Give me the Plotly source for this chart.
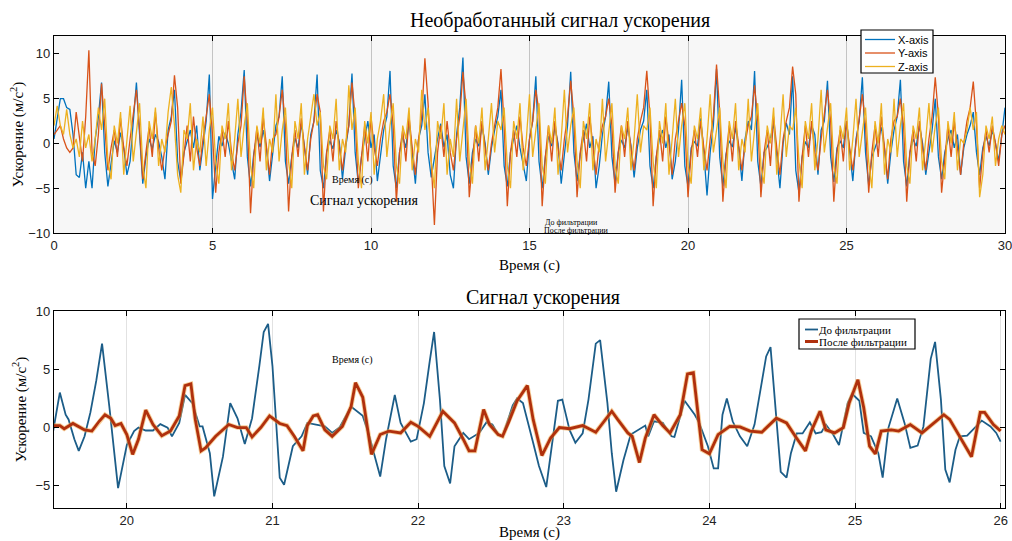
import numpy as np
import plotly.graph_objects as go

# ---------------- top panel: raw acceleration, sampled every 0.1 s (0..30 s) ----------------
sample_step = 0.1
x_axis_acc = [
    0.5, 3.0, 5.0, 5.0, 4.0, 3.8, 1.0, -3.5, -3.8, -1.0,
    -5.0, -2.0, -5.0, 0.5, 3.0, 6.8, -1.0, -4.8, -2.0, 0.3,
    -1.0, 1.2, -0.5, -3.5, -2.0, 2.0, 6.8, 1.0, -4.5, -1.5,
    0.5, -0.6, 1.0, 0.2, -1.5, -4.0, 1.5, 3.0, 6.0, -2.0,
    -4.2, -1.0, 0.4, 1.5, -0.5, 2.0, -3.0, -0.5, 2.5, 7.7,
    -6.2, -2.5, 0.8, -0.3, 1.2, 0.0, -2.0, -4.0, 1.0, 3.5,
    8.2, -1.5, -4.8, -1.2, 1.0, -0.4, 1.5, -0.5, -4.2, -1.0,
    2.0, 3.0, 7.5, -2.0, -4.5, -1.5, 0.6, -0.5, 2.2, -0.3,
    -3.5, 1.0, 2.5, 7.7, -3.0, -5.0, -1.0, 0.3, -0.6, 1.5,
    0.2, -4.0, -0.5, 2.0, 7.8, -1.0, -4.5, -1.5, 0.5, 2.5,
    -0.5, 1.0, -4.2, -1.0, 1.5, 3.0, 8.1, -2.5, -5.0, -1.0,
    0.8, -0.5, 2.5, -1.0, -4.5, 0.5, 2.0, 5.5, -1.0, -3.8,
    -1.5, 0.5, 2.2, -0.4, 1.0, -3.5, -5.0, 1.0, 4.0, 9.6,
    -1.5, -4.5, -1.0, 0.5, -0.3, 2.0, 0.0, -3.5, -0.5, 1.5,
    3.0, 6.0, -2.5, -4.8, -1.0, 0.6, 2.0, -0.5, -2.5, -4.2,
    0.5, 2.5, 7.5, -2.0, -5.0, -1.5, 0.8, -0.3, 1.8, 0.0,
    -4.5, -1.0, 2.0, 8.0, -1.0, -4.2, -1.2, 0.5, 2.2, -0.5,
    0.8, -5.0, -2.5, 1.0, 3.0, 6.9, -1.5, -4.5, -1.0, 0.4,
    -0.5, 1.8, -0.2, -3.8, -0.5, 1.5, 2.5, 6.0, -2.5, -5.0,
    -1.5, 0.5, 1.5, -0.5, 1.0, -4.0, -2.0, 1.5, 7.1, -2.5,
    -4.8, -0.5, 0.2, -0.3, 2.8, -1.0, -5.8, -1.0, 2.0, 8.3,
    -1.5, -4.8, -1.2, 0.3, -0.4, 1.8, -0.5, -4.2, 0.5, 2.5,
    1.5, 8.1, -2.0, -4.8, -1.0, -0.4, 0.5, 2.3, -1.0, -5.0,
    0.0, 2.3, 1.0, 7.5, -3.0, -5.5, -1.5, 0.2, -0.5, 2.0,
    1.0, -3.5, 1.5, 2.5, 7.0, -1.5, -4.3, -0.5, 0.3, -0.5,
    2.5, -1.2, -4.2, 0.5, 2.5, 7.4, -1.0, -4.7, -1.5, -0.5,
    0.5, 1.8, -0.6, -4.5, -1.0, 1.5, 3.0, 7.1, -2.0, -4.8,
    -1.0, 0.5, -0.3, 2.0, 0.0, -3.5, -1.0, 1.5, 5.0, -1.5,
    -4.0, -1.0, 0.5, 1.5, -0.5, 1.0, -3.5, -0.5, 1.0, 2.0,
    3.5, -1.0, -3.5, -0.5, 0.8, -0.3, 1.5, 0.0, -2.0, 1.0,
    4.0,
]
y_axis_acc = [
    1.0, 1.5, 2.0, 0.5, -0.5, -1.0, -0.5, 3.5, 1.0, -2.0,
    3.0, 10.4, -1.0, -2.5, 1.0, 6.7, 2.0, -3.0, -0.5, 1.5,
    -1.5, 2.8, -0.5, -2.5, 0.5, 3.0, 6.0, 1.5, -4.0, -1.0,
    1.8, -1.5, 3.5, -0.5, -3.0, -0.5, 1.0, 2.5, 7.6, 4.0,
    -4.5, -1.5, 2.0, -2.0, 3.0, -0.5, -2.5, 0.5, 3.0, 5.5,
    1.0, -5.5, -1.0, 1.5, -1.5, 2.5, -1.0, -3.0, 0.0, 2.0,
    7.5, 2.5, -7.8, -1.5, 1.8, -2.0, 3.0, 0.0, -3.5, 0.5,
    1.0, 3.0, 6.0, 2.0, -7.6, -1.5, 1.5, -1.5, 2.8, -0.5,
    -3.0, 0.5, 2.5, 5.5, 3.5, -7.6, -1.0, 1.5, -2.0, 2.5,
    -0.5, -3.0, 0.0, 2.0, 6.8, 3.0, -5.0, -1.5, 2.0, -2.0,
    3.0, -0.5, -2.5, 0.5, 2.5, 3.5, 5.5, 2.0, -6.5, -1.0,
    1.5, -2.0, 3.0, -0.5, -3.5, 0.5, 3.0, 9.5, 4.5, -2.0,
    -9.1, -1.0, 2.0, -1.5, 2.5, -1.0, -3.0, 0.5, 3.0, 8.0,
    4.0, -6.0, -1.5, 2.0, -2.0, 2.5, -0.5, -3.0, 0.0, 2.0,
    4.0, 8.3, 2.0, -7.0, -1.0, 1.5, -1.5, 3.0, -0.5, -2.5,
    0.5, 2.5, 6.0, 3.5, -7.0, -1.5, 2.0, -2.0, 2.5, -0.5,
    -3.0, 0.5, 3.0, 7.0, 3.0, -6.0, -1.0, 1.5, -2.0, 3.0,
    -0.5, -3.5, 0.0, 2.0, 3.0, 5.0, 2.0, -5.5, -1.0, 2.0,
    -1.5, 2.5, -0.5, -3.0, 0.5, 2.5, 4.0, 8.1, 3.0, -7.0,
    -1.5, 1.5, -2.0, 3.0, 0.0, -3.5, 0.5, 2.5, 4.5, 2.0,
    -6.0, -1.0, 1.5, -1.5, 2.5, -0.5, -3.0, 0.5, 3.0, 8.8,
    3.5, -6.5, -1.5, 2.0, -2.0, 2.5, -0.5, -3.0, 0.0, 2.0,
    3.0, 6.5, 2.5, -6.0, -1.0, 1.5, -2.5, 3.0, -0.5, -3.5,
    0.5, 2.5, 4.0, 8.6, 5.5, -6.5, -1.5, 2.0, -1.5, 2.5,
    -1.0, -3.0, 0.5, 3.0, 6.0, 2.5, -6.5, -1.0, 1.5, -2.0,
    2.5, -0.5, -3.0, 0.0, 2.5, 5.5, 2.0, -5.5, -1.0, 2.0,
    -1.5, 3.0, -0.5, -4.0, 0.5, 2.5, 3.0, 5.0, 2.0, -6.5,
    -1.0, 1.5, -2.0, 2.5, -0.5, -3.0, 0.5, 3.0, 7.4, 3.0,
    -5.5, -1.5, 2.0, -1.5, 2.5, -0.5, -3.5, 0.0, 2.5, 4.0,
    6.9, 2.0, -5.0, -1.0, 1.5, -1.0, 2.0, 0.0, -2.5, 1.0,
    2.0,
]
z_axis_acc = [
    2.0, 4.2, 2.0, 1.0, 3.8, 1.0, -0.5, 0.5, -1.5, 2.5,
    -0.5, 1.0, -2.0, 0.5, 4.0, 1.5, 5.0, -2.0, -4.0, 2.0,
    0.0, 3.5, -3.5, 0.5, 4.2, -2.0, 1.5, 4.5, -2.5, -5.0,
    2.5, 0.5, 4.0, -2.5, 0.5, -1.0, 3.5, 6.3, 2.0, -3.5,
    -5.5, 1.5, 0.5, 4.5, -3.0, 0.5, -1.0, 3.0, -2.5, 1.5,
    4.0, -2.0, -4.5, 2.0, 0.5, 4.5, -3.0, 0.5, 5.0, -1.5,
    2.0, 4.5, -2.5, -5.0, 2.0, 0.0, 4.0, -3.0, 0.5, -1.0,
    5.5, -2.0, 1.5, 4.0, -2.0, -5.0, 2.5, 0.5, 4.5, -3.5,
    0.5, 3.0, 5.5, 2.0, 3.5, -2.5, -4.0, 2.0, 0.5, 5.0,
    -3.0, 0.5, -1.0, 6.5, 1.5, 4.0, -2.0, -5.0, 2.5, 0.0,
    3.5, -3.5, 0.5, 2.5, 5.5, -1.5, 2.0, 4.5, -2.5, -4.5,
    2.0, 0.5, 4.0, -3.0, 0.5, -1.0, 6.0, 1.5, 4.0, -2.0,
    -5.0, 2.5, 0.5, 4.5, -3.5, 0.5, -1.5, 5.0, -2.0, 1.5,
    5.0, -2.0, -4.5, 2.0, 0.0, 4.0, -3.0, 0.5, 4.5, -1.0,
    2.5, 1.5, 4.0, -2.5, -5.0, 2.5, 0.5, 4.5, -3.0, 0.5,
    5.5, -1.5, 1.5, 4.5, -2.5, -4.5, 2.0, 0.0, 4.0, -3.5,
    0.5, 6.0, -1.0, 2.0, 4.0, -2.0, -5.0, 2.5, 0.5, 4.5,
    -3.0, 0.5, -1.0, 5.0, -2.0, 1.5, 4.5, -2.5, -4.5, 2.0,
    0.5, 4.0, -3.0, 0.5, 5.5, -1.0, 2.0, 1.5, 4.0, -2.0,
    -5.0, 2.5, 0.0, 4.5, -3.5, 0.5, 5.0, -1.5, 2.0, 4.5,
    -2.5, -4.5, 2.0, 0.5, 4.0, -3.0, 0.5, 5.5, -1.0, 1.5,
    4.0, -2.0, -5.0, 2.5, 0.5, 4.5, -3.0, 0.5, -1.0, 5.0,
    -2.0, 1.5, 4.5, -2.5, -4.5, 2.0, 0.0, 4.0, -3.5, 0.5,
    5.5, -1.5, 2.0, 1.5, 4.0, -2.0, -5.0, 2.5, 0.5, 4.5,
    -3.0, 0.5, 6.0, -1.0, 2.0, 4.5, -2.5, -4.5, 2.0, 0.5,
    4.0, -3.0, 0.5, 5.0, -1.5, 1.5, 4.0, -2.0, -5.0, 2.5,
    0.0, 4.5, -3.5, 0.5, -1.0, 5.0, -1.5, 2.0, 4.5, -2.5,
    -4.5, 2.0, 0.5, 4.0, -3.0, 0.5, 4.5, -1.0, 2.0, 4.0,
    -2.0, -4.0, 2.5, 0.0, 3.5, -3.0, 0.5, 0.0, 1.5, 4.0,
    1.5, 3.5, -6.0, -3.5, 2.0, 0.5, 3.0, -2.5, 0.5, 2.0,
    1.0,
]
time_top = np.round(np.arange(len(x_axis_acc)) * sample_step, 2)

# ---------------- bottom panel: before / after filtering (19.5..26 s) ----------------
t_before = [
    19.49, 19.54, 19.58, 19.60, 19.64, 19.67, 19.71, 19.75, 19.79, 19.83,
    19.88, 19.94, 20.00, 20.05, 20.08, 20.13, 20.18, 20.23, 20.28, 20.31,
    20.36, 20.40, 20.45, 20.50, 20.52, 20.57, 20.60, 20.66, 20.71, 20.76,
    20.81, 20.86, 20.91, 20.94, 20.97, 21.00, 21.05, 21.08, 21.14, 21.20,
    21.24, 21.30, 21.36, 21.41, 21.46, 21.54, 21.62, 21.66, 21.74, 21.78,
    21.84, 21.88, 21.95, 21.99, 22.04, 22.08, 22.11, 22.15, 22.18, 22.22,
    22.25, 22.31, 22.35, 22.42, 22.47, 22.51, 22.55, 22.58, 22.65, 22.68,
    22.72, 22.79, 22.83, 22.88, 22.93, 22.96, 22.99, 23.04, 23.08, 23.13,
    23.17, 23.22, 23.25, 23.30, 23.33, 23.36, 23.41, 23.46, 23.56, 23.58,
    23.62, 23.68, 23.74, 23.76, 23.83, 23.86, 23.90, 23.93, 23.99, 24.03,
    24.06, 24.09, 24.12, 24.16, 24.21, 24.26, 24.31, 24.36, 24.39, 24.42,
    24.46, 24.49, 24.53, 24.56, 24.60, 24.64, 24.69, 24.73, 24.77, 24.80,
    24.85, 24.89, 24.95, 24.98, 25.03, 25.06, 25.11, 25.16, 25.19, 25.23,
    25.29, 25.34, 25.38, 25.43, 25.47, 25.52, 25.55, 25.59, 25.62, 25.65,
    25.69, 25.72, 25.77, 25.83, 25.87, 25.93, 25.97, 26.00,
]
v_before = [
    -0.6, 3.0, 1.1, 0.7, -1.0, -2.0, -0.75, 1.3, 4.0, 7.2,
    1.8, -5.2, -1.5, -0.3, 0.0, -0.25, -0.25, 0.3, 0.0, -0.75,
    0.4, 2.8, 2.1, 0.1, 0.1, -2.2, -5.9, -2.5, 2.1, 0.8,
    -1.4, 0.8, 5.3, 8.2, 8.9, 5.3, -4.3, -4.9, -1.6, -0.75,
    0.4, 0.26, 0.1, -0.46, 0.0, 1.8, 1.0, -0.5, -4.2, -1.0,
    2.8, 0.4, -1.2, -1.0, 2.1, 5.7, 8.2, 2.4, -3.3, -4.8,
    -1.6, -0.46, -1.0, -0.46, 0.46, 0.26, -0.6, -0.75, 1.9, 2.5,
    2.1, -1.3, -3.3, -5.1, -0.2, 2.3, 2.4, -0.2, -1.3, -0.5,
    2.4, 7.2, 7.5, 2.1, -2.2, -5.5, -2.8, -0.6, 0.17, -0.75,
    0.54, 0.4, -0.75, -0.8, 2.3, 1.8, 1.1, 0.4, -1.6, -3.5,
    -3.5, 1.1, 2.5, 0.54, -0.75, -1.6, 0.26, 3.9, 6.1, 6.9,
    1.0, -3.8, -4.3, -2.2, -0.5, -0.5, 0.46, -0.5, -0.4, 0.26,
    -0.6, -1.5, 2.1, 2.9, 2.3, -0.46, -0.75, -2.2, -4.3, 0.0,
    2.5, 0.4, -1.75, -1.55, 0.1, 5.9, 7.35, 2.4, -3.6, -4.7,
    -1.9, -0.75, -0.7, 0.1, 0.6, 0.1, -0.46, -1.2,
]
t_after = [
    19.49, 19.54, 19.57, 19.63, 19.68, 19.71, 19.76, 19.81, 19.85, 19.89,
    19.92, 19.96, 20.00, 20.04, 20.08, 20.13, 20.18, 20.24, 20.30, 20.36,
    20.40, 20.44, 20.47, 20.51, 20.54, 20.61, 20.70, 20.76, 20.82, 20.86,
    20.92, 20.98, 21.05, 21.10, 21.15, 21.21, 21.24, 21.28, 21.31, 21.36,
    21.41, 21.48, 21.54, 21.57, 21.62, 21.68, 21.74, 21.80, 21.88, 21.95,
    22.00, 22.08, 22.17, 22.25, 22.31, 22.35, 22.39, 22.45, 22.49, 22.55,
    22.58, 22.62, 22.68, 22.75, 22.79, 22.85, 22.91, 22.97, 23.04, 23.13,
    23.22, 23.33, 23.37, 23.44, 23.47, 23.52, 23.56, 23.62, 23.68, 23.73,
    23.80, 23.85, 23.89, 23.92, 23.95, 24.00, 24.06, 24.14, 24.21, 24.28,
    24.36, 24.46, 24.53, 24.59, 24.66, 24.70, 24.76, 24.80, 24.86, 24.92,
    24.96, 25.02, 25.06, 25.10, 25.14, 25.18, 25.25, 25.30, 25.38, 25.46,
    25.54, 25.61, 25.65, 25.72, 25.80, 25.86, 25.89, 25.95, 26.00,
]
v_after = [
    0.17, 0.17, -0.1, 0.35, 0.0, -0.2, -0.3, 0.54, 1.1, 0.8,
    0.17, 0.35, -0.6, -2.3, -1.0, 1.5, 0.26, -0.7, -0.3, 1.0,
    3.6, 3.75, 0.7, -2.0, -1.75, -0.75, 0.26, 0.0, 0.0, -0.8,
    0.0, 1.0, 0.35, 0.17, -0.75, -2.0, 0.17, 1.0, 1.1, -0.2,
    -0.75, 0.1, 1.8, 3.85, 2.6, -2.3, -0.6, -0.3, -0.46, 0.46,
    0.1, -0.75, 1.4, 0.4, -1.0, -2.0, -2.0, 1.55, 0.26, -0.6,
    -0.75, 0.4, 2.3, 3.6, 0.7, -2.4, -0.9, 0.0, -0.1, 0.17,
    -0.4, 1.4, 0.7, -0.46, -0.75, -3.0, -0.9, 1.1, 0.17, -0.46,
    1.1, 4.6, 4.7, 1.55, -1.9, -2.25, -0.6, 0.1, 0.06, -0.3,
    -0.4, 0.8, 0.4, -0.75, -2.0, -0.3, 1.4, -0.2, -0.46, 0.0,
    2.1, 4.1, 1.7, -1.6, -2.25, -0.3, -0.2, -0.3, 0.26, -0.46,
    0.4, 1.1, 0.7, -0.75, -2.5, 1.3, 1.3, 0.26, -0.3,
]

top_xticks = [0, 5, 10, 15, 20, 25, 30]
top_yticks = [-10, -5, 0, 5, 10]
bot_xticks = [20, 21, 22, 23, 24, 25, 26]
bot_yticks = [-5, 0, 5, 10]

top_names = ["X-axis", "Y-axis", "Z-axis"]
top_colors = ["#0072BD", "#D95319", "#EDB120"]
bot_names = ["До фильтрации", "После фильтрации"]
bot_colors = ["#1c5d88", "#b0300d"]

SERIF = "Liberation Serif, Times New Roman, serif"
SANS = "Liberation Sans, Arial, sans-serif"
W, H = 1012, 541
X_TITLE = "Время (с)"
Y_TITLE = "Ускорение (м/с<sup>2</sup>)"

fig = go.Figure()

# top traces
for name, vals, col in zip(top_names, [x_axis_acc, y_axis_acc, z_axis_acc], top_colors):
    fig.add_trace(go.Scatter(x=time_top, y=vals, mode="lines", name=name,
                             line=dict(color=col, width=1.3),
                             xaxis="x", yaxis="y", showlegend=False))

# bottom traces
fig.add_trace(go.Scatter(x=t_before, y=v_before, mode="lines", name=bot_names[0],
                         line=dict(color=bot_colors[0], width=1.8),
                         xaxis="x2", yaxis="y2", showlegend=False))
fig.add_trace(go.Scatter(x=t_after, y=v_after, mode="lines", showlegend=False,
                         line=dict(color="rgba(240,165,70,0.55)", width=4.6),
                         xaxis="x2", yaxis="y2", hoverinfo="skip"))
fig.add_trace(go.Scatter(x=t_after, y=v_after, mode="lines", name=bot_names[1],
                         line=dict(color=bot_colors[1], width=2.8),
                         xaxis="x2", yaxis="y2", showlegend=False))

XDOM = [54 / W, 1005 / W]
TOPDOM = [1 - 233 / H, 1 - 36 / H]
BOTDOM = [1 - 508 / H, 1 - 311 / H]

axis_common = dict(showline=True, linecolor="black", linewidth=1.2, mirror="ticks",
                   ticks="inside", ticklen=5, tickcolor="black", zeroline=False,
                   automargin=False, ticklabeloverflow="allow",
                   tickfont=dict(family=SANS, size=13, color="#222"))
title_font = dict(family=SERIF, size=15, color="black")

fig.update_layout(
    width=W, height=H,
    margin=dict(l=0, r=0, t=0, b=0, autoexpand=False),
    paper_bgcolor="white", plot_bgcolor="white",
    xaxis=dict(domain=XDOM, anchor="y", range=[0, 30], tickvals=top_xticks,
               title=dict(text=X_TITLE, font=title_font, standoff=7),
               showgrid=True, gridcolor="#c4c4c4", gridwidth=1, **axis_common),
    yaxis=dict(domain=TOPDOM, anchor="x", range=[-10, 12], tickvals=top_yticks,
               title=dict(text=Y_TITLE, font=title_font, standoff=0),
               showgrid=False, **axis_common),
    xaxis2=dict(domain=XDOM, anchor="y2", range=[19.5, 26.03], tickvals=bot_xticks,
                title=dict(text=X_TITLE, font=title_font, standoff=4),
                showgrid=True, gridcolor="#e2e2e2", gridwidth=1, **axis_common),
    yaxis2=dict(domain=BOTDOM, anchor="x2", range=[-6.9, 10], tickvals=bot_yticks,
                title=dict(text=Y_TITLE, font=title_font, standoff=5),
                showgrid=False, **axis_common),
    showlegend=False,
)

# light grey background for the top panel
fig.add_shape(type="rect", xref="x domain", yref="y domain", x0=0, x1=1, y0=0, y1=1,
              fillcolor="#f7f7f7", line=dict(width=0), layer="below")


def px(x):
    return x / W


def py(y):
    return 1 - y / H


def ann(text, x, y, size, angle=0, family=SERIF, xanchor="center"):
    fig.add_annotation(text=text, x=px(x), y=py(y), xref="paper", yref="paper",
                       showarrow=False, textangle=angle, xanchor=xanchor, yanchor="middle",
                       font=dict(family=family, size=size, color="black"))


def legend_box(x0, y0, x1, y1, rows, line_x0, line_x1, text_x, names, colors, widths, family):
    fig.add_shape(type="rect", xref="paper", yref="paper", x0=px(x0), x1=px(x1),
                  y0=py(y1), y1=py(y0), fillcolor="white",
                  line=dict(color="black", width=1.2), layer="above")
    for yy, nm, col, wd in zip(rows, names, colors, widths):
        fig.add_shape(type="line", xref="paper", yref="paper", x0=px(line_x0), x1=px(line_x1),
                      y0=py(yy), y1=py(yy), line=dict(color=col, width=wd), layer="above")
        ann(nm, text_x, yy, 11, family=family, xanchor="left")


# legends (compact, as in the original figure)
legend_box(861, 30, 933, 73, [39.5, 53, 66.5], 865, 895, 896,
           top_names, top_colors, [1.3, 1.3, 1.3], SANS)
legend_box(799, 319, 915, 349, [329.5, 341.5], 805, 818, 817,
           bot_names, bot_colors, [1.8, 3], SERIF)

ann("Необработанный сигнал ускорения", 560, 20, 20)
ann("Сигнал ускорения", 543, 297, 20)
# stray overlay labels present in the original figure
ann("Время (с)", 352, 180, 10)
ann("Сигнал ускорения", 364, 200, 14)
ann("До фильтрации", 571, 222, 8)
ann("После фильтрации", 576, 230, 8)
ann("Время (с)", 352, 360, 10)

fig.write_html("out.html")
